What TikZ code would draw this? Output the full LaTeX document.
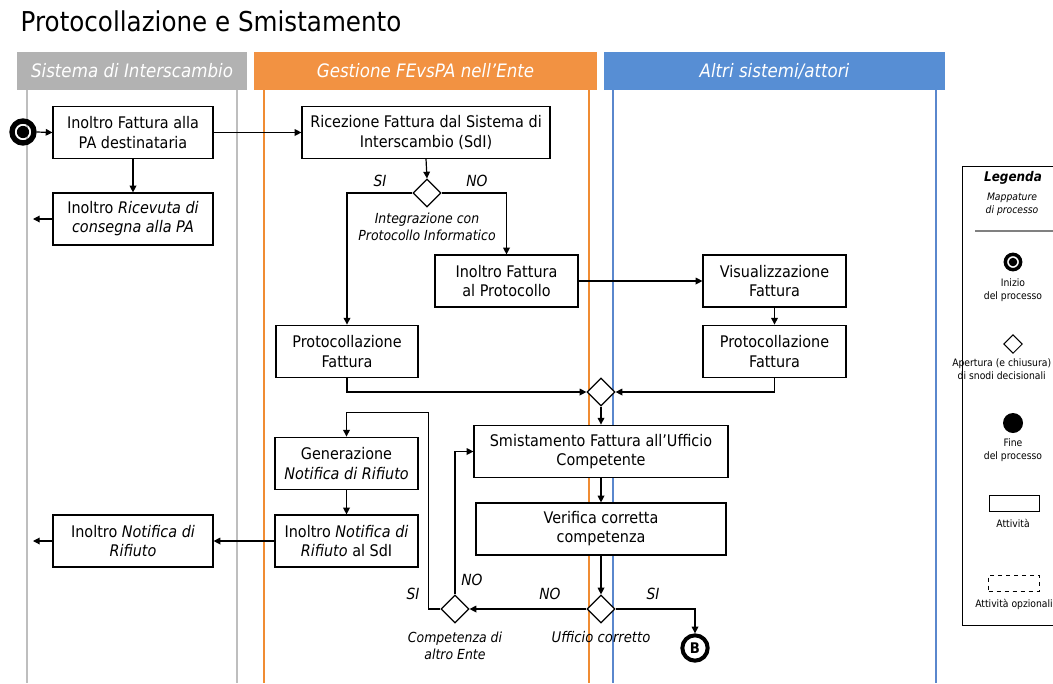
\documentclass[tikz,border=0pt]{standalone}
\usepackage{fontspec}
\setmainfont{DejaVu Sans}[FakeStretch=0.9]
\usetikzlibrary{arrows.meta,shapes.geometric,calc}
\definecolor{laneGray}{RGB}{178,178,178}
\definecolor{laneOrange}{RGB}{242,146,66}
\definecolor{laneBlue}{RGB}{87,142,212}
\definecolor{lineGray}{RGB}{190,190,190}
\definecolor{lineOrange}{RGB}{240,140,50}
\definecolor{lineBlue}{RGB}{90,135,205}
\tikzset{
  activity/.style={draw, line width=0.9pt, fill=white, align=center, inner sep=0pt,
    font=\fontsize{12pt}{14.3pt}\selectfont},
  decision/.style={diamond, draw, line width=0.9pt, fill=white, inner sep=0pt,
    minimum width=21pt, minimum height=21pt},
  flow/.style={line width=0.9pt, -{Triangle[length=5pt,width=5pt]}},
  branch/.style={font=\fontsize{11.5pt}{13pt}\selectfont\itshape},
  caption/.style={align=center, font=\fontsize{10.4pt}{12.5pt}\selectfont\itshape},
  header/.style={text=white, font=\fontsize{13.9pt}{16pt}\selectfont\itshape},
  legendtext/.style={align=center, font=\fontsize{7.7pt}{9.8pt}\selectfont},
}
\begin{document}
\begin{tikzpicture}[x=0.75pt,y=-0.75pt]
\useasboundingbox (0,0) rectangle (1053,683);
\clip (0,0) rectangle (1053,683);

% title
\node[anchor=west, font=\fontsize{20.5pt}{24pt}\selectfont] (title) at (16,21) {Protocollazione e Smistamento};

% swimlane headers
\fill[laneGray] (17,52) rectangle (247,90);
\fill[laneOrange] (254,52) rectangle (597,90);
\fill[laneBlue] (604,52) rectangle (945,90);
\node[header] (hSdI) at (132,71) {Sistema di Interscambio};
\node[header] (hEnte) at (425.5,71) {Gestione FEvsPA nell’Ente};
\node[header] (hAltri) at (774.5,71) {Altri sistemi/attori};

% swimlane borders
\draw[lineGray, line width=1.2pt] (27,90) -- (27,683) (237,90) -- (237,683);
\draw[lineOrange, line width=1.2pt] (264,90) -- (264,683) (589,90) -- (589,683);
\draw[lineBlue, line width=1.2pt] (613,90) -- (613,683) (936,90) -- (936,683);

% start event
\node[circle, draw, line width=4pt, minimum size=16.5pt, inner sep=0pt] (start) at (23,132) {};
\fill (start.center) circle (4.6pt);

% activities
\node[activity, minimum width=120pt, minimum height=39.5pt] (inoltroPA) at (133,132.5) {Inoltro Fattura alla\\PA destinataria};
\node[activity, minimum width=120pt, minimum height=39pt] (ricevuta) at (133,219) {Inoltro \textit{Ricevuta di}\\\textit{consegna alla PA}};
\node[activity, minimum width=186pt, minimum height=38.5pt] (ricezione) at (426,132.5) {Ricezione Fattura dal Sistema di\\Interscambio (SdI)};
\node[activity, minimum width=107.25pt, minimum height=39pt] (inoltroProt) at (506.5,281) {Inoltro Fattura\\al Protocollo};
\node[activity, minimum width=107.25pt, minimum height=39pt] (visual) at (774.5,281) {Visualizzazione\\Fattura};
\node[activity, minimum width=107.25pt, minimum height=39.5pt] (protR) at (774.5,351.5) {Protocollazione\\Fattura};
\node[activity, minimum width=106.5pt, minimum height=39.5pt] (protL) at (347,351.5) {Protocollazione\\Fattura};
\node[activity, minimum width=190.5pt, minimum height=39.5pt] (smist) at (601,451.5) {Smistamento Fattura all’Ufficio\\Competente};
\node[activity, minimum width=187.5pt, minimum height=39pt] (verifica) at (601,529) {Verifica corretta\\competenza};
\node[activity, minimum width=107.25pt, minimum height=39.5pt] (genera) at (346.5,463.5) {Generazione\\\textit{Notifica di Rifiuto}};
\node[activity, minimum width=107.25pt, minimum height=39pt] (notSdI) at (346.5,541) {Inoltro \textit{Notifica di}\\\textit{Rifiuto} al SdI};
\node[activity, minimum width=120pt, minimum height=39pt] (notRif) at (133,541) {Inoltro \textit{Notifica di}\\\textit{Rifiuto}};

% decisions
\node[decision] (dInteg) at (427,193) {};
\node[decision] (dMerge) at (601,392) {};
\node[decision] (dUff) at (601,609) {};
\node[decision] (dEnte) at (455,609) {};

% end connector B
\node[circle, draw, line width=3pt, minimum size=19pt, inner sep=0pt, font=\fontsize{11pt}{12pt}\selectfont\bfseries] (B) at (695,648) {B};

% free ends
\coordinate (outRic) at (33,219);
\coordinate (outRif) at (33,541);

% decision captions
\node[caption] (cInteg) at (427,227) {Integrazione con\\Protocollo Informatico};
\node[caption, font=\fontsize{11pt}{12.5pt}\selectfont\itshape] (cUff) at (601,637) {Ufficio corretto};
\node[caption] (cEnte) at (455,646) {Competenza di\\altro Ente};

% connectors
\draw[flow] (start.east) -- (inoltroPA.west);
\draw[flow] (inoltroPA.south) -- (ricevuta.north);
\draw[flow] (ricevuta.west) -- (outRic);
\draw[flow] (inoltroPA.east) -- (ricezione.west);
\draw[flow] (ricezione.south) -- (dInteg.north);
\draw[flow] (dInteg.west) -| (protL.north);
\draw[flow] (dInteg.east) -| (inoltroProt.north);
\draw[flow] (inoltroProt.east) -- (visual.west);
\draw[flow] (visual.south) -- (protR.north);
\draw[flow] (protL.south) |- (dMerge.west);
\draw[flow] (protR.south) |- (dMerge.east);
\draw[flow] (dMerge.south) -- (smist.north);
\draw[flow] (smist.south) -- (verifica.north);
\draw[flow] (verifica.south) -- (dUff.north);
\draw[flow] (dUff.east) -| (B.north);
\draw[flow] (dUff.west) -- (dEnte.east);
\draw[flow] (dEnte.north) |- (smist.west);
\draw[flow] (dEnte.west) -- ++(-12,0) |- ($(genera.north)+(0,-24)$) -- (genera.north);
\draw[flow] (genera.south) -- (notSdI.north);
\draw[flow] (notSdI.west) -- (notRif.east);
\draw[flow] (notRif.west) -- (outRif);

% branch labels
\node[branch] (lSi1) at (380,181) {SI};
\node[branch] (lNo1) at (477,181) {NO};
\node[branch] (lSi2) at (653,594) {SI};
\node[branch] (lNo2) at (550,594) {NO};
\node[branch] (lNo3) at (472,580) {NO};
\node[branch] (lSi3) at (413,594) {SI};

% legend
\draw[line width=0.6pt] (962,166) rectangle (1070,625);
\node[font=\fontsize{10pt}{11pt}\selectfont\bfseries\itshape] (lgTitle) at (1013,178) {Legenda};
\node[legendtext, font=\fontsize{7.7pt}{9.8pt}\selectfont\itshape] (lgSub) at (1012,204) {Mappature\\di processo};
\draw[gray, line width=1pt] (975,231) -- (1060,231);
\node[circle, draw, line width=2.6pt, minimum size=11.5pt, inner sep=0pt] (lgStart) at (1013,262) {};
\fill (lgStart.center) circle (3.2pt);
\node[legendtext] (lgStartT) at (1013,290) {Inizio\\del processo};
\node[diamond, draw, line width=0.7pt, minimum width=14pt, minimum height=14pt, inner sep=0pt] (lgDec) at (1013,344) {};
\node[legendtext, anchor=west, inner sep=0pt] (lgDecT) at (952,370) {\begin{tabular}{@{}c@{}}Apertura (e chiusura)\\di snodi decisionali\end{tabular}};
\node[circle, fill, minimum size=15pt, inner sep=0pt] (lgEnd) at (1013,423) {};
\node[legendtext] (lgEndT) at (1013,450) {Fine\\del processo};
\node[draw, line width=0.6pt, minimum width=37.5pt, minimum height=12pt, inner sep=0pt] (lgAct) at (1014,503) {};
\node[legendtext] (lgActT) at (1013,523) {Attività};
\node[draw, dashed, line width=0.6pt, minimum width=38pt, minimum height=12pt, inner sep=0pt] (lgOpt) at (1014,583) {};
\node[legendtext, anchor=west, inner sep=0pt] (lgOptT) at (975,604) {Attività opzionali};
\end{tikzpicture}
\end{document}
